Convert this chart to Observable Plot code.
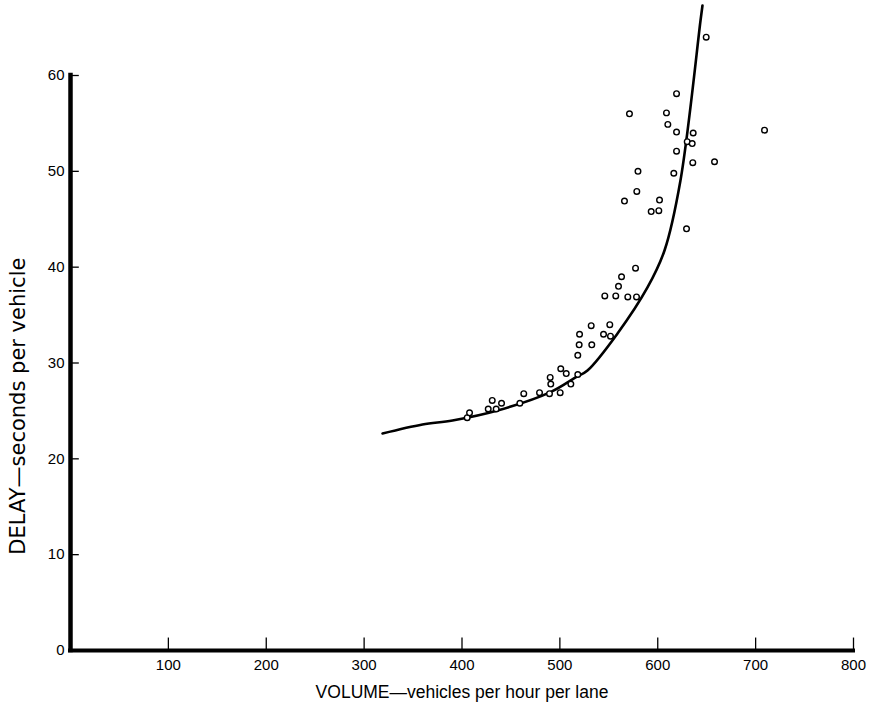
<!DOCTYPE html>
<html><head><meta charset="utf-8">
<script src="https://cdn.jsdelivr.net/npm/d3@7"></script>
<script src="https://cdn.jsdelivr.net/npm/@observablehq/plot@0.6"></script>
<style>body{margin:0;background:#fff}</style>
</head><body><div id="chart"></div>
<script>
const volume = [405.3, 407.7, 426.8, 430.9, 434.9, 440.4, 459.1, 463.1, 479.2, 489.4, 490.1, 490.7, 500.3, 500.9, 506.5, 511.2, 518.3,
  518.3, 519.7, 532.6, 520.1, 544.6, 551.7, 532.0, 551.0, 545.9, 557.1, 569.4, 578.3, 559.9, 563.0, 577.3, 629.4,
  566.0, 593.3, 601.1, 601.8, 578.6, 579.8, 616.4, 635.8, 658.0, 619.2, 630.1, 635.2, 636.2, 619.2, 610.3, 608.9,
  571.1, 619.2, 649.5, 709.1];
const delay = [24.3, 24.8, 25.2, 26.1, 25.2, 25.8, 25.8, 26.8, 26.9, 26.8, 28.5, 27.8, 26.9, 29.4, 28.9, 27.8, 28.8,
  30.8, 31.9, 31.9, 33.0, 33.0, 32.8, 33.9, 34.0, 37.0, 37.0, 36.9, 36.9, 38.0, 39.0, 39.9, 44.0,
  46.9, 45.8, 45.9, 47.0, 47.9, 50.0, 49.8, 50.9, 51.0, 52.1, 53.1, 52.9, 54.0, 54.1, 54.9, 56.1,
  56.0, 58.1, 64.0, 54.3];
const curveVolume = [318.8, 359.6, 390.3, 436.3, 490.4, 516.0, 528.2, 558.9, 589.5, 606.9, 623.2, 643.7, 645.7];
const curveDelay = [22.64, 23.58, 24.0, 25.04, 26.96, 28.49, 29.22, 33.08, 37.88, 41.74, 49.05, 65.74, 67.3];
const xTicks = [100, 200, 300, 400, 500, 600, 700, 800];
const yTicks = [0, 10, 20, 30, 40, 50, 60];
const xTitle = "VOLUME—vehicles per hour per lane";
const yTitle = "DELAY—seconds per vehicle";

const points = volume.map((v, i) => ({volume: v, delay: delay[i]}));
const curve = curveVolume.map((v, i) => ({volume: v, delay: curveDelay[i]}));
const font = "'Liberation Sans', Arial, sans-serif";

const chart = Plot.plot({
  width: 880, height: 715,
  marginLeft: 70, marginRight: 27, marginTop: 0, marginBottom: 65,
  x: {domain: [0, 800], range: [70, 853], axis: null},
  y: {domain: [0, 60], range: [650, 75], axis: null},
  style: {fontFamily: font, background: "white", color: "black"},
  marks: [
    Plot.ruleY([0], {x1: 0, x2: 800, strokeWidth: 4, strokeLinecap: "square"}),
    Plot.ruleX([0], {y1: 0, y2: 60, strokeWidth: 4.5, strokeLinecap: "square"}),
    Plot.ruleX(xTicks, {y1: 0, y2: 1.3, strokeWidth: 1.3}),
    Plot.ruleY(yTicks.filter(d => d > 0), {x1: 0, x2: 9, strokeWidth: 1.3}),
    Plot.axisX({ticks: xTicks, tickSize: 0, tickPadding: 9, fontSize: 15, anchor: "bottom", label: null}),
    Plot.axisY({ticks: yTicks, tickSize: 0, tickPadding: 6, fontSize: 15, anchor: "left", label: null}),
    Plot.text([xTitle], {x: 400, y: 0, dy: 42, text: d => d, fontSize: 17.5}),
    Plot.text([yTitle], {x: 0, y: 25.5, dx: -52, rotate: -90, text: d => d, fontSize: 21,
      fontFamily: "'DejaVu Sans', sans-serif", letterSpacing: 3}),
    Plot.line(curve, {x: "volume", y: "delay", curve: "catmull-rom", strokeWidth: 2.6, stroke: "black"}),
    Plot.dot(points, {x: "volume", y: "delay", r: 2.8, stroke: "black", strokeWidth: 1.4, fill: "white"})
  ]
});
document.getElementById("chart").appendChild(chart);
</script>
</body></html>
